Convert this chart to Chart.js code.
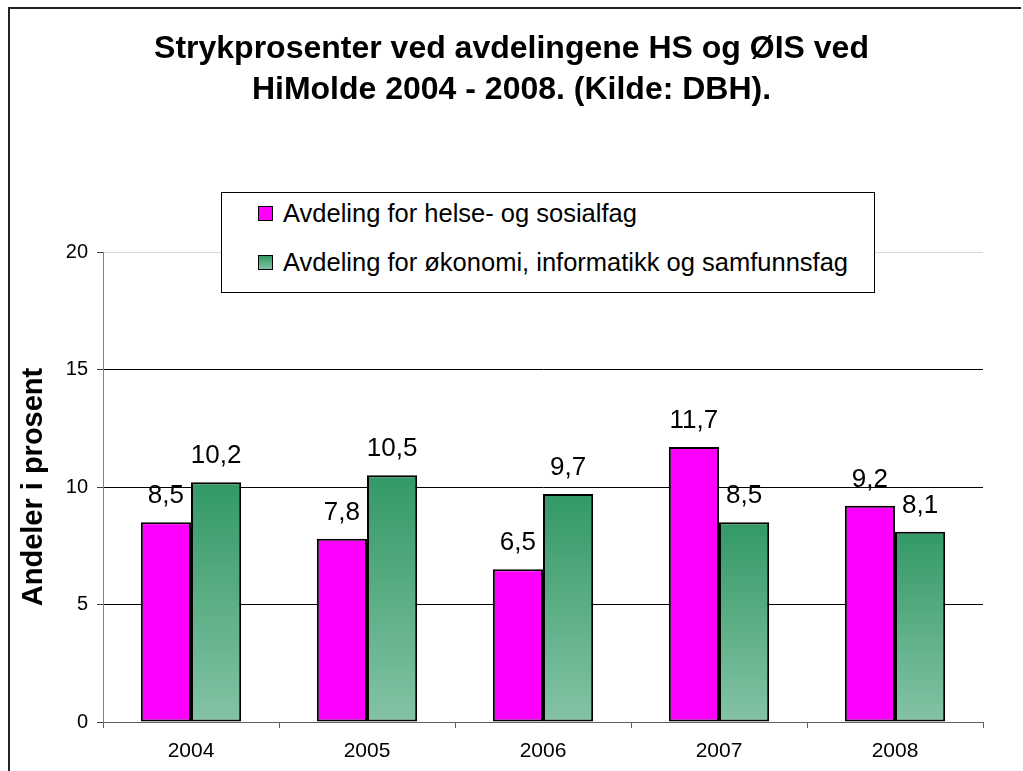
<!DOCTYPE html>
<html>
<head>
<meta charset="utf-8">
<script src="https://cdn.jsdelivr.net/npm/chart.js@4"></script>
<style>
  html, body { margin: 0; padding: 0; background: #fff; }
  #wrap { position: relative; width: 1023px; height: 771px; overflow: hidden; font-family: "Liberation Sans", Arial, sans-serif; }
  #frameTop { position: absolute; left: 8px; top: 7px; width: 1013px; height: 2px; background: #222; }
  #frameLeft { position: absolute; left: 8px; top: 7px; width: 2px; height: 770px; background: #222; }
  #title { position: absolute; left: 0; top: 27px; width: 1023px; text-align: center; font-weight: bold;
           font-size: 32px; line-height: 41px; color: #000; }
  #legend { position: absolute; left: 221px; top: 192px; width: 654px; height: 101px; box-sizing: border-box;
            border: 1px solid #000; background: #fff; }
  .item { position: absolute; left: 0; height: 30px; line-height: 30px; font-size: 25.5px; color: #000; white-space: nowrap; }
  .mark { position: absolute; left: 36px; top: 8px; width: 13px; height: 13px; border: 1px solid #000; }
  .lbl { position: absolute; left: 61px; top: 0; }
</style>
</head>
<body>
<div id="wrap">
  <canvas id="chart" width="1023" height="771"></canvas>
  <div id="frameTop"></div>
  <div id="frameLeft"></div>
  <div id="title"></div>
  <div id="legend"></div>
</div>
<script>
var years = ['2004', '2005', '2006', '2007', '2008'];
var helseSosial = [8.5, 7.8, 6.5, 11.7, 9.2];
var okonomiInfo = [10.2, 10.5, 9.7, 8.5, 8.1];
var seriesNames = [
    'Avdeling for helse- og sosialfag',
    'Avdeling for økonomi, informatikk og samfunnsfag'
];
var yTicks = [0, 5, 10, 15, 20];
var titleLines = [
    'Strykprosenter ved avdelingene HS og ØIS ved',
    'HiMolde 2004 - 2008. (Kilde: DBH).'
];
var yTitle = 'Andeler i prosent';

var fontFam = '"Liberation Sans", Arial, sans-serif';

// green bars: gradient from dark at top of each bar to light at the base
var greenFill = function (ctx) {
    var chart = ctx.chart;
    if (!chart.chartArea || ctx.parsed === undefined) return '#5aab83';
    var y = chart.scales.y;
    var top = y.getPixelForValue(ctx.parsed.y);
    var base = y.getPixelForValue(0);
    var g = chart.ctx.createLinearGradient(0, top, 0, base);
    g.addColorStop(0, '#339966');
    g.addColorStop(1, '#84c3a4');
    return g;
};

var valueLabels = {
    id: 'valueLabels',
    afterDatasetsDraw: function (chart) {
        var ctx = chart.ctx;
        ctx.save();
        ctx.font = '26px ' + fontFam;
        ctx.fillStyle = '#000';
        ctx.textAlign = 'center';
        ctx.textBaseline = 'alphabetic';
        chart.data.datasets.forEach(function (ds, i) {
            chart.getDatasetMeta(i).data.forEach(function (bar, j) {
                ctx.fillText(String(ds.data[j]).replace('.', ','), bar.x, bar.y - 19);
            });
        });
        ctx.restore();
    }
};

var ctx = document.getElementById('chart').getContext('2d');
var chart = new Chart(ctx, {
    type: 'bar',
    data: {
        labels: years,
        datasets: [
            {
                label: seriesNames[0],
                data: helseSosial,
                backgroundColor: '#ff00ff',
                borderColor: '#000',
                borderWidth: 2,
                borderSkipped: false
            },
            {
                label: seriesNames[1],
                data: okonomiInfo,
                backgroundColor: greenFill,
                borderColor: '#000',
                borderWidth: 2,
                borderSkipped: false
            }
        ]
    },
    options: {
        responsive: false,
        animation: false,
        layout: { padding: { left: 10, right: 40, top: 252, bottom: 4 } },
        datasets: { bar: { categoryPercentage: 0.57, barPercentage: 1 } },
        plugins: {
            legend: { display: false },
            tooltip: { enabled: false },
            title: { display: false }
        },
        scales: {
            x: {
                afterFit: function (s) { s.height = 45; },
                border: { color: '#606060', width: 1 },
                grid: { drawOnChartArea: false, tickLength: 6, tickColor: '#606060' },
                ticks: { color: '#000', padding: 11, font: { family: fontFam, size: 21 } }
            },
            y: {
                min: 0,
                max: 20,
                afterFit: function (s) { s.width = 93; },
                afterBuildTicks: function (s) {
                    s.ticks = yTicks.map(function (v) { return { value: v }; });
                },
                border: { color: '#808080', width: 1 },
                grid: {
                    tickLength: 6,
                    tickColor: '#404040',
                    color: function (c) { return c.tick && c.tick.value === 20 ? '#d8d8d8' : '#000'; }
                },
                ticks: { color: '#000', padding: 9, font: { family: fontFam, size: 20 } },
                title: {
                    display: true,
                    text: yTitle,
                    color: '#000',
                    font: { family: fontFam, size: 29, weight: 'bold', lineHeight: 1 },
                    padding: { top: 9, bottom: 0 }
                }
            }
        }
    },
    plugins: [valueLabels]
});

// title lines
var title = document.getElementById('title');
titleLines.forEach(function (t) {
    var line = document.createElement('div');
    line.textContent = t;
    title.appendChild(line);
});

// legend box built from the dataset labels
var legend = document.getElementById('legend');
var markColors = ['#ff00ff', 'linear-gradient(#339966, #84c3a4)'];
var rowTops = [5, 54];
chart.data.datasets.forEach(function (ds, i) {
    var item = document.createElement('div');
    item.className = 'item';
    item.style.top = rowTops[i] + 'px';
    var mark = document.createElement('span');
    mark.className = 'mark';
    mark.style.background = markColors[i];
    var lbl = document.createElement('span');
    lbl.className = 'lbl';
    lbl.textContent = ds.label;
    item.appendChild(mark);
    item.appendChild(lbl);
    legend.appendChild(item);
});
</script>
</body>
</html>
